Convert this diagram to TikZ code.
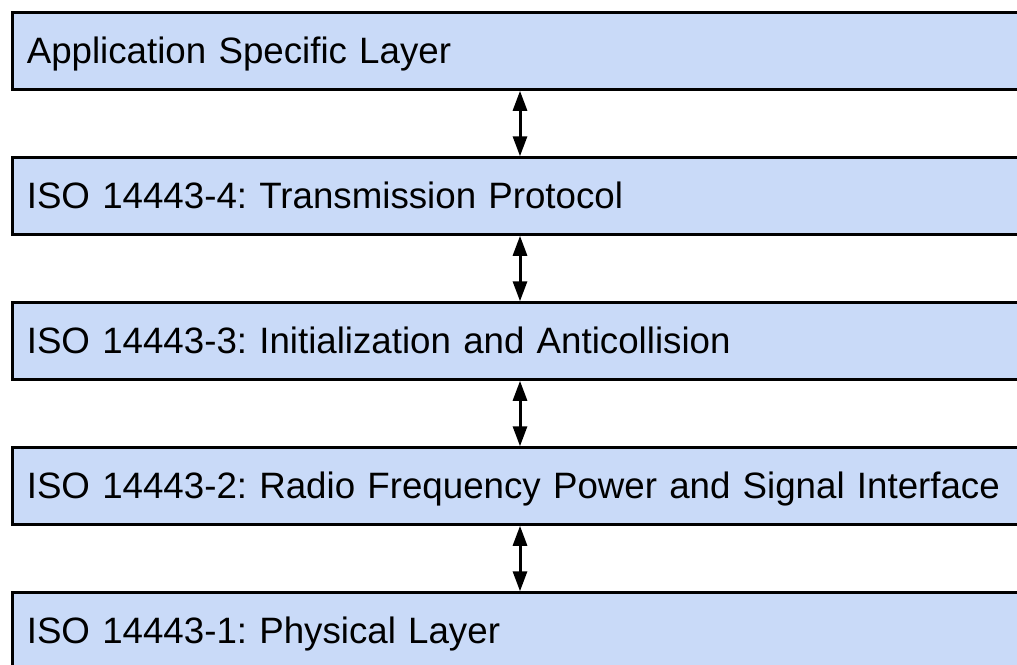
\documentclass[tikz,border=0pt]{standalone}
\usepackage{fontspec}
\setmainfont{Liberation Sans}
\usepackage{xcolor}
\usetikzlibrary{positioning, arrows.meta}
\frenchspacing

\definecolor{layerblue}{HTML}{C9DAF8}

\begin{document}
\begin{tikzpicture}[x=1pt, y=1pt,
        layer/.style={draw, line width=3pt, fill=layerblue, minimum height=76.5pt,
            text width=986.4pt, inner xsep=14pt, inner ysep=0pt, align=left,
            text height=30pt, text depth=5pt, font=\fontsize{36.7}{44}\selectfont},
        link/.style={line width=3pt, {Triangle[length=20pt, width=14pt]}-{Triangle[length=20pt, width=14pt]}}]
        \useasboundingbox (0, 0) rectangle (1017, -664);

        \node[layer, anchor=north west] (app) at (11.3, -11.3) {Application Specific Layer};
        \node[layer, below=65.5pt of app] (iso4) {ISO 14443-4: Transmission Protocol};
        \node[layer, below=65.5pt of iso4] (iso3) {ISO 14443-3: Initialization and Anticollision};
        \node[layer, below=65.5pt of iso3] (iso2) {ISO 14443-2: Radio Frequency Power and Signal Interface};
        \node[layer, below=65.5pt of iso2] (iso1) {ISO 14443-1: Physical Layer};

        \draw[link] (app) -- (iso4);
        \draw[link] (iso4) -- (iso3);
        \draw[link] (iso3) -- (iso2);
        \draw[link] (iso2) -- (iso1);
    \end{tikzpicture}
\end{document}
